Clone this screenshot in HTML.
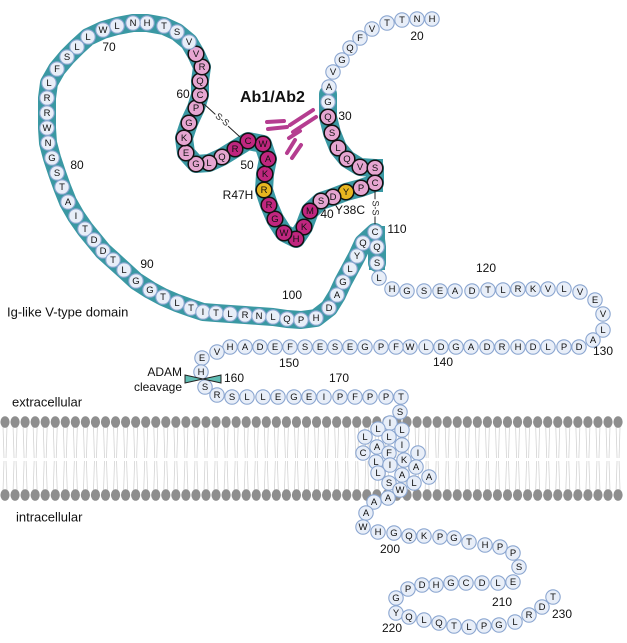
<!DOCTYPE html>
<html><head><meta charset="utf-8"><style>
html,body{margin:0;padding:0;background:#fff;}
svg{display:block;font-family:"Liberation Sans",sans-serif;}
</style></head><body>
<svg id="s" width="627" height="643" viewBox="0 0 627 643" xmlns="http://www.w3.org/2000/svg">
<g id="mem"></g>
<g id="band" fill="none" stroke="#3a98a3" stroke-linejoin="round" stroke-linecap="round"></g>
<rect x="366" y="159" width="17" height="33" fill="#3a98a3"/>
<rect x="369" y="226" width="16" height="44" fill="#3a98a3"/>
<line x1="204" y1="104" x2="240" y2="137" stroke="#222" stroke-width="1"/>
<text x="222" y="120" font-size="9" transform="rotate(40 222 120)" text-anchor="middle" dominant-baseline="middle" fill="#222" style="paint-order:stroke" stroke="#fff" stroke-width="3">S-S</text>
<line x1="375" y1="191" x2="375" y2="225" stroke="#222" stroke-width="1"/>
<text x="375" y="208" font-size="9" transform="rotate(90 375 208)" text-anchor="middle" dominant-baseline="middle" fill="#222" style="paint-order:stroke" stroke="#fff" stroke-width="3">S-S</text>
<g stroke="#b53d90" stroke-width="4" stroke-linecap="round">
<line x1="267" y1="122" x2="284" y2="121"/>
<line x1="268" y1="129" x2="287" y2="127"/>
<line x1="290" y1="125" x2="313" y2="110"/>
<line x1="293" y1="132" x2="316" y2="117"/>
<line x1="289" y1="138" x2="300" y2="131"/>
<line x1="287" y1="153" x2="295" y2="140"/>
<line x1="292" y1="158" x2="301" y2="145"/>
</g>
<g id="res"></g>
<polygon points="185,375 185,383 203,379" fill="#5fbcb3" stroke="#222" stroke-width="1"/>
<polygon points="221,375 221,383 203,379" fill="#5fbcb3" stroke="#222" stroke-width="1"/>
<g font-size="12" fill="#111" dominant-baseline="middle">
<text x="240" y="98" font-size="16" font-weight="bold">Ab1/Ab2</text>
<text x="417" y="37" text-anchor="middle">20</text>
<text x="345" y="117" text-anchor="middle">30</text>
<text x="327" y="215" text-anchor="middle">40</text>
<text x="350" y="211" text-anchor="middle">Y38C</text>
<text x="397" y="230" text-anchor="middle">110</text>
<text x="486" y="269" text-anchor="middle">120</text>
<text x="603" y="352" text-anchor="middle">130</text>
<text x="443" y="363" text-anchor="middle">140</text>
<text x="289" y="364" text-anchor="middle">150</text>
<text x="234" y="379" text-anchor="middle">160</text>
<text x="339" y="379" text-anchor="middle">170</text>
<text x="390" y="550" text-anchor="middle">200</text>
<text x="502" y="603" text-anchor="middle">210</text>
<text x="392" y="629" text-anchor="middle">220</text>
<text x="562" y="615" text-anchor="middle">230</text>
<text x="109" y="48" text-anchor="middle">70</text>
<text x="183" y="95" text-anchor="middle">60</text>
<text x="77" y="166" text-anchor="middle">80</text>
<text x="247" y="166" text-anchor="middle">50</text>
<text x="238" y="196" text-anchor="middle">R47H</text>
<text x="147" y="265" text-anchor="middle">90</text>
<text x="292" y="296" text-anchor="middle">100</text>
<text x="7" y="313" font-size="13">Ig-like V-type domain</text>
<text x="182" y="373" text-anchor="end">ADAM</text>
<text x="182" y="388" text-anchor="end">cleavage</text>
<text x="12" y="403" font-size="13">extracellular</text>
<text x="16" y="518" font-size="13">intracellular</text>
</g>
</svg>
<script>
var NS="http://www.w3.org/2000/svg";
function el(t,a,p){var e=document.createElementNS(NS,t);for(var k in a)e.setAttribute(k,a[k]);p.appendChild(e);return e;}
var mem=document.getElementById("mem");
for(var x=5;x<627;x+=10.05){
 el("path",{d:"M"+(x-2)+",426 L"+(x-1)+",458 M"+(x+2)+",426 L"+(x+1)+",458 M"+(x-2)+",491 L"+(x-1)+",461 M"+(x+2)+",491 L"+(x+1)+",461",stroke:"#d4d4d4","stroke-width":"0.8",fill:"none"},mem);
 el("ellipse",{cx:x,cy:422,rx:4.6,ry:5.8,fill:"#8e8e8e"},mem);
 el("ellipse",{cx:x,cy:495,rx:4.6,ry:5.8,fill:"#8e8e8e"},mem);
}
var R=[
["H",432,19],["N",417,19],["T",402,20],["T",387,23],["V",372,29],["F",360,38],["Q",350,48],["G",342,60],["V",333,72],["A",329,87],["G",328,102],
["Q",328,117,"p"],["S",332,133,"p"],["L",338,148,"p"],["Q",347,159,"p"],["V",360,167,"p"],["S",375,168,"p"],["C",375,183,"p"],["P",361,188,"p"],["Y",346,192,"y"],["D",333,197,"p"],["S",321,201,"p"],
["M",310,211,"m"],["K",304,227,"m"],["H",296,239,"m"],["W",284,233,"m"],["G",275,219,"m"],["R",269,205,"m"],["R",264,190,"y"],["K",265,174,"m"],["A",268,159,"m"],["W",263,144,"m"],["C",248,141,"m"],["R",235,149,"m"],
["Q",222,157,"p"],["L",209,163,"p"],["G",196,164,"p"],["E",186,153,"p"],["K",184,138,"p"],["G",189,123,"p"],["P",196,108,"p"],["C",200,95,"p"],["Q",200,81,"p"],["R",202,67,"p"],["V",196,54,"p"],
["V",189,42],["S",177,32],["T",164,26],["H",147,23],["N",133,23],["L",117,26],["W",103,30],["L",88,37],["L",77,47],["S",67,57],["F",57,69],["L",49,83],["R",47,98],["R",47,113],["W",47,128],["N",48,143],["G",52,158],["S",57,173],["T",62,187],["A",68,202],["I",76,216],["T",85,229],["D",94,240],["D",103,251],["T",113,260],["L",124,270],["G",136,281],["G",150,290],["T",163,297],["L",177,303],["T",191,308],["I",203,312],["T",216,313],["L",230,314],["R",245,315],["N",259,316],["L",273,317],["Q",287,319],["P",301,320],["H",316,318],["D",329,308],["A",337,295],["G",343,282],["L",350,269],["Y",357,256],["Q",363,243],["C",375,232],["Q",377,247],["S",377,263],["L",379,278],
["H",392,289],["G",407,291],["S",424,291],["E",440,291],["A",455,291],["D",472,291],["T",488,290],["L",503,290],["R",518,289],["K",533,289],["V",548,289],["L",564,289],["V",580,292],["E",595,300],["V",603,314],["L",603,330],["A",593,340],
["D",579,347],["P",564,347],["L",548,347],["D",533,347],["H",518,347],["R",502,347],["D",487,347],["A",471,347],["G",456,347],["D",441,347],["L",426,347],["W",410,347],["F",396,347],["P",381,347],["G",365,347],["E",350,347],["S",335,347],["E",320,347],["S",305,347],["F",290,347],["E",275,347],["D",260,347],["A",245,347],["H",230,347],["V",217,352],["E",202,358],["H",201,372],["S",205,387],
["R",217,395],["S",232,397],["L",247,397],["L",263,397],["E",278,397],["G",294,397],["E",309,397],["I",324,397],["P",340,397],["F",355,397],["P",370,397],["P",386,397],["T",401,397],["S",400,412],
["I",390,423],["L",402,430],["L",378,429],["L",389,437],["L",365,437],["A",377,447],["I",402,445],["C",363,453],["F",389,453],["I",418,453],["L",376,462],["I",390,465],["K",404,460],["L",378,473],["A",416,467],["A",402,475],["A",429,477],["S",389,483],["L",414,483],["W",400,490],["A",388,498],["A",374,502],["A",366,513],["W",363,527],
["H",378,532],["G",394,533],["Q",409,536],["K",424,536],["P",440,537],["G",454,538],["T",469,542],["H",485,545],["P",500,547],["P",513,553],["S",519,567],["E",513,582],["L",498,583],["D",482,583],["C",466,583],["G",451,583],["H",436,585],["D",422,585],["P",408,589],["G",396,598],["Y",396,613],["Q",409,617],["L",424,620],["Q",439,623],["T",454,626],["L",469,627],["P",484,626],["G",499,625],["L",515,622],["R",529,615],["D",542,607],["T",553,597]
];
var band=document.getElementById("band");
var i0=10,i1=0;
for(var i=0;i<R.length;i++){if(R[i][1]==377&&R[i][2]==263){i1=i;break;}}
var d="";
for(var i=i0;i<=i1;i++){d+="L"+R[i][1]+","+R[i][2]+" ";}
el("path",{d:"M328,94 "+d,"stroke-width":"18"},band);
var g=document.getElementById("res");
var fills={w:"#e8eef8",p:"#e6a6d1",m:"#c0267f",y:"#e8b61f"};
for(var i=0;i<R.length;i++){
 var r=R[i],t=r[3]||"w";
 var dark=(t!="w");
 el("circle",{cx:r[1],cy:r[2],r:dark?7.8:7.2,fill:fills[t],stroke:dark?"#111":"#8ba6d0","stroke-width":dark?"1.5":"1.1"},g);
 var tx=el("text",{x:r[1],y:r[2]+0.5,"font-size":"9.5","text-anchor":"middle","dominant-baseline":"middle",fill:"#111"},g);
 tx.textContent=r[0];
}
</script>
</body></html>
